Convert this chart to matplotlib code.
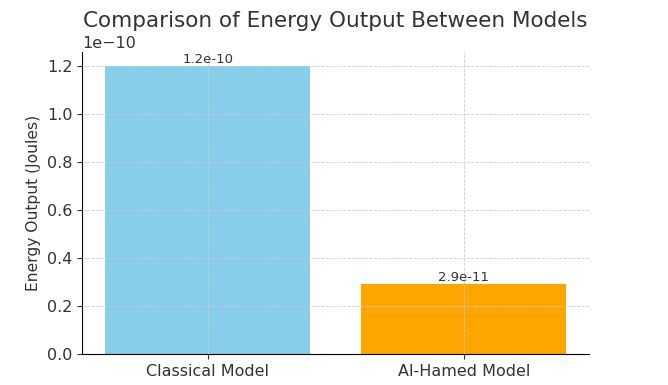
import matplotlib
matplotlib.use("Agg")
from matplotlib import pyplot as plt

models = ["Classical Model", "Al-Hamed Model"]
energy = [1.2e-10, 2.9e-11]
labels = ["1.2e-10", "2.9e-11"]
colors = ["skyblue", "orange"]

plt.rcParams["text.color"] = "#333333"
plt.rcParams["axes.labelcolor"] = "#333333"
plt.rcParams["xtick.color"] = "#333333"
plt.rcParams["ytick.color"] = "#333333"

fig = plt.figure(figsize=(6.68, 3.85), dpi=100)
ax = fig.add_axes([0.123, 0.081, 0.759, 0.784])

bars = ax.bar(models, energy, color=colors, width=0.8)
for b, t in zip(bars, labels):
    ax.text(b.get_x() + b.get_width() / 2, b.get_height(), t,
            ha="center", va="bottom", fontsize=9.5)

ax.set_title("Comparison of Energy Output Between Models", fontsize=15.5, pad=18)
ax.set_ylabel("Energy Output (Joules)", fontsize=11.2)
ax.tick_params(labelsize=11.5)
ax.grid(True, linestyle="--", linewidth=0.6, color="#cccccc")
ax.spines["top"].set_visible(False)
ax.spines["right"].set_visible(False)
ax.yaxis.get_offset_text().set_fontsize(11.5)

fig.savefig("out.png", dpi=100)
